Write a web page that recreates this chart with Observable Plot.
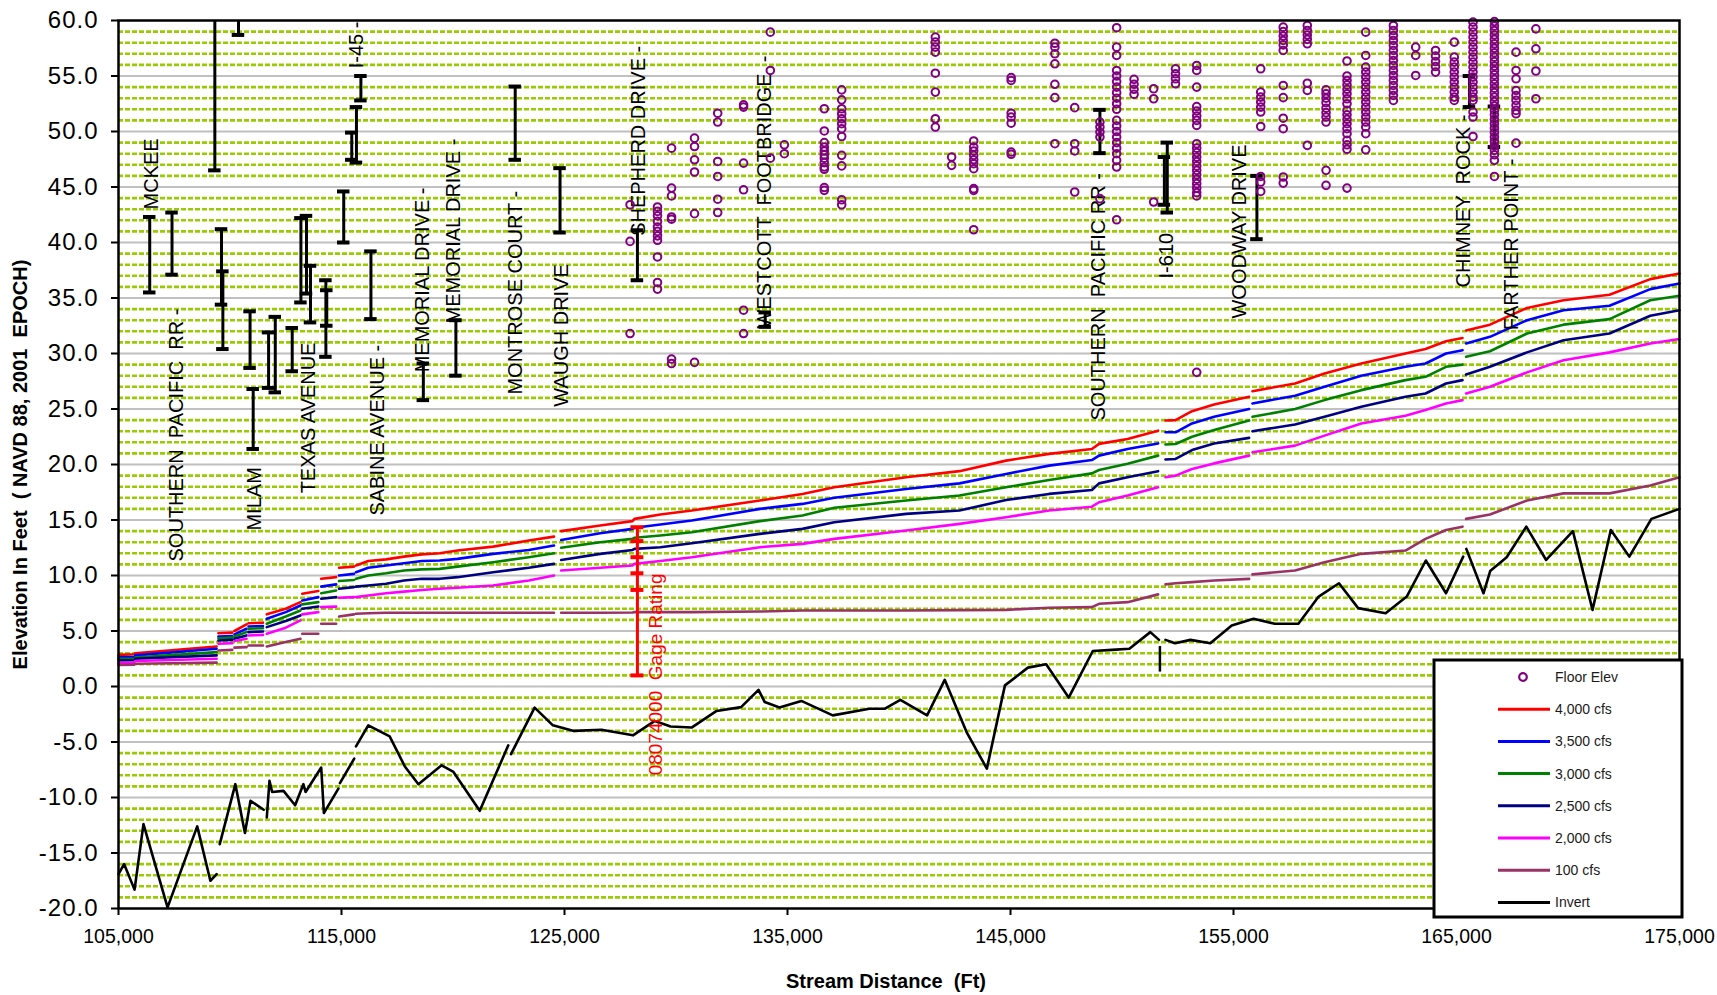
<!DOCTYPE html>
<html>
<head>
<meta charset="utf-8">
<script src="https://cdn.jsdelivr.net/npm/d3@7"></script>
<script src="https://cdn.jsdelivr.net/npm/@observablehq/plot@0.6"></script>
<style>
  html, body { margin: 0; padding: 0; background: #fff; overflow: hidden; }
  #chart svg text { white-space: pre; }
  #chart svg g[aria-label="y-axis tick label"] { letter-spacing: 1px; }
</style>
</head>
<body>
<div id="chart"></div>
<script>
// ---- Water-surface profiles: stations (ft) grouped in continuous reaches ----
const wsSegments = [
  [105000, 105700],
  [105750, 109400],
  [109480, 110100],
  [110200, 110740],
  [110830, 111480],
  [111650, 112500, 113160],
  [113240, 113960],
  [114090, 114760],
  [114890, 115560],
  [115650, 116200, 117000, 117800, 118600, 119400, 120200, 121800, 123400, 124530],
  [124850, 126600, 128050, 128140, 129300, 130710, 133760, 135670, 137100, 140320, 142710, 144800, 146730, 148650, 148970, 150250, 151620],
  [151950, 152400, 153140, 154130, 155700],
  [155850, 157760, 159080, 160730, 162710, 163610, 164530, 165270],
  [165430, 166500, 168160, 169800, 171860, 173690, 175000]
];

// Elevations (ft) of each profile, one list per reach above
const q4000 = [
  [2.85, 2.9], [3.0, 3.6], [4.8, 4.85], [5.0, 5.6], [5.7, 5.75], [6.5, 7.0, 7.6],
  [8.35, 8.6], [9.7, 9.85], [10.7, 10.8],
  [10.9, 11.3, 11.45, 11.7, 11.9, 12.0, 12.25, 12.6, 13.15, 13.5],
  [14.0, 14.5, 14.9, 15.1, 15.5, 15.85, 16.75, 17.35, 17.95, 18.85, 19.4, 20.35, 20.96, 21.4, 21.86, 22.3, 23.05],
  [23.96, 24.0, 24.8, 25.4, 26.1],
  [26.6, 27.3, 28.2, 29.1, 30.0, 30.4, 31.1, 31.4],
  [32.07, 32.6, 34.1, 34.8, 35.3, 36.7, 37.2]
];
const q3500 = [
  [2.64, 2.68], [2.8, 3.4], [4.5, 4.55], [4.7, 5.2], [5.4, 5.45], [6.1, 6.7, 7.3],
  [7.75, 8.05], [9.0, 9.2], [10.0, 10.15],
  [10.3, 10.7, 10.9, 11.1, 11.3, 11.35, 11.5, 11.95, 12.3, 12.7],
  [13.2, 13.8, 14.2, 14.3, 14.6, 14.95, 16.0, 16.45, 17.0, 17.8, 18.3, 19.15, 19.9, 20.4, 20.8, 21.4, 21.9],
  [22.9, 22.9, 23.7, 24.3, 25.0],
  [25.5, 26.2, 27.0, 28.0, 28.8, 29.1, 30.0, 30.3],
  [30.9, 31.5, 33.0, 33.9, 34.3, 35.8, 36.3]
];
const q3000 = [
  [2.49, 2.52], [2.6, 3.1], [4.35, 4.4], [4.5, 4.9], [5.2, 5.25], [5.65, 6.3, 6.85],
  [7.4, 7.6], [8.4, 8.65], [9.5, 9.6],
  [9.7, 10.0, 10.2, 10.45, 10.55, 10.6, 10.8, 11.2, 11.65, 12.0],
  [12.5, 13.0, 13.3, 13.4, 13.6, 13.9, 14.9, 15.4, 16.1, 16.75, 17.2, 17.95, 18.6, 19.2, 19.5, 20.06, 20.8],
  [21.8, 21.85, 22.5, 23.1, 23.96],
  [24.3, 25.0, 25.8, 26.7, 27.6, 27.9, 28.8, 29.0],
  [29.7, 30.2, 31.8, 32.6, 33.1, 34.8, 35.2]
];
const q2500 = [
  [2.34, 2.36], [2.5, 2.8], [4.15, 4.2], [4.3, 4.6], [4.9, 4.95], [5.35, 5.9, 6.4],
  [7.0, 7.2], [7.9, 8.05], [8.8, 8.95],
  [9.0, 9.1, 9.25, 9.55, 9.7, 9.7, 9.85, 10.3, 10.7, 11.05],
  [11.4, 11.95, 12.3, 12.4, 12.55, 12.9, 13.75, 14.2, 14.8, 15.55, 15.85, 16.8, 17.35, 17.7, 18.3, 18.85, 19.4],
  [20.45, 20.5, 21.3, 21.9, 22.4],
  [23.0, 23.6, 24.3, 25.2, 26.1, 26.4, 27.3, 27.6],
  [28.1, 28.8, 30.1, 31.2, 31.8, 33.4, 33.9]
];
const q2000 = [
  [2.13, 2.15], [2.3, 2.5], [3.85, 3.9], [4.1, 4.3], [4.6, 4.65], [4.75, 5.3, 5.95],
  [6.5, 6.7], [7.15, 7.2], [8.0, 8.05],
  [8.05, 8.2, 8.4, 8.55, 8.7, 8.8, 8.9, 9.1, 9.55, 10.0],
  [10.45, 10.7, 10.9, 11.05, 11.3, 11.65, 12.55, 12.85, 13.3, 14.05, 14.65, 15.25, 15.85, 16.2, 16.6, 17.2, 17.95],
  [18.85, 19.0, 19.6, 20.1, 20.8],
  [21.1, 21.7, 22.6, 23.7, 24.4, 24.9, 25.5, 25.8],
  [26.4, 27.0, 28.3, 29.4, 30.1, 30.9, 31.3]
];
const q100 = [
  [1.95, 1.96], [2.05, 2.15], [3.25, 3.3], [3.5, 3.55], [3.7, 3.7], [3.6, 4.0, 4.3],
  [4.75, 4.75], [5.65, 5.65], [6.3, 6.5],
  [6.55, 6.6, 6.64, 6.64, 6.64, 6.64, 6.64, 6.64, 6.64, 6.64],
  [6.64, 6.64, 6.66, 6.7, 6.7, 6.7, 6.75, 6.85, 6.85, 6.85, 6.88, 6.9, 7.1, 7.15, 7.45, 7.6, 8.3],
  [9.2, 9.3, 9.4, 9.55, 9.7],
  [10.1, 10.45, 11.2, 11.95, 12.25, 13.3, 14.1, 14.4],
  [15.1, 15.5, 16.75, 17.4, 17.4, 18.1, 18.85]
];

const profileNames = ["4,000 cfs", "3,500 cfs", "3,000 cfs", "2,500 cfs", "2,000 cfs", "100 cfs"];
const profileValues = [q4000, q3500, q3000, q2500, q2000, q100];

// ---- Channel invert (ft), continuous pieces ----
const invertStations = [
  [105000, 105250, 105720, 106120, 107200, 108530, 109120, 109400],
  [109540, 110240, 110670, 110920, 111510],
  [111650, 111770, 111890, 112400, 112920, 113290, 113390, 114090, 114210, 114860],
  [114930, 115570],
  [115650, 116200, 117160, 117840, 118450, 119490, 120020, 121200, 122480],
  [122600, 123660, 124480, 125420, 126660, 128070, 129050, 129760, 130700, 131820, 132920, 133700, 133980, 134640, 135620, 137030, 138670, 139370, 140060, 141260, 142050, 143030, 143940, 144750, 145780, 146600, 147610, 148690, 149550, 150330, 151270, 151660],
  [151950, 152380, 153070, 153960, 154920, 155900, 156850, 157910, 158820, 159730, 160590, 161820, 162770, 163625, 164530, 165300],
  [165440, 166210, 166510, 167250, 168130, 169020, 170220, 171100, 171920, 172750, 173740, 175000]
];
const invertElev = [
  [-16.9, -16.0, -18.3, -12.4, -19.9, -12.6, -17.5, -16.9],
  [-14.2, -8.8, -13.2, -10.3, -11.1],
  [-11.8, -8.5, -9.5, -9.4, -10.7, -8.8, -9.5, -7.3, -11.4, -9.2],
  [-8.7, -6.5],
  [-5.4, -3.5, -4.5, -7.2, -8.8, -7.1, -7.7, -11.2, -5.3],
  [-6.1, -1.9, -3.5, -4.0, -3.9, -4.4, -3.1, -3.6, -3.7, -2.2, -1.86, -0.3, -1.4, -1.9, -1.3, -2.6, -2.0, -2.0, -1.2, -2.6, 0.6, -4.1, -7.4, 0.1, 1.7, 2.0, -1.0, 3.2, 3.3, 3.4, 4.9, 4.2],
  [4.2, 3.9, 4.2, 3.9, 5.5, 6.1, 5.65, 5.65, 8.1, 9.3, 7.06, 6.6, 8.1, 11.35, 8.4, 11.7],
  [12.4, 8.4, 10.4, 11.65, 14.4, 11.4, 14.0, 6.9, 14.1, 11.7, 15.1, 16.0]
];

// ---- Bridge openings: station, low chord / deck elevations (ft) ----
const bridgeX    = [106400, 107400, 109320, 110380, 109620, 109680, 110900, 111040, 111730, 112030, 112790, 113180, 113430, 113610, 114300, 114340, 115100, 115460, 115670, 115870, 116320, 118670, 120130, 122790, 124800, 128270, 134000, 149010, 152030, 151900, 156050, 165580, 166700];
const bridgeLow  = [35.5, 37.1, 46.5, 58.7, 34.4, 30.4, 28.7, 21.4, 26.9, 26.5, 28.4, 34.6, 35.4, 32.8, 29.7, 32.5, 40.0, 47.45, 47.2, 52.8, 33.1, 25.8, 28.0, 47.45, 40.9, 36.6, 32.4, 48.05, 42.7, 43.4, 40.3, 52.2, 48.6];
const bridgeHigh = [42.3, 42.7, 60.0, 60.0, 41.2, 37.4, 33.8, 26.8, 31.9, 33.3, 32.3, 42.2, 42.4, 37.9, 36.6, 35.7, 44.6, 49.9, 52.2, 55.0, 39.2, 29.1, 33.0, 54.05, 46.7, 41.1, 33.7, 51.95, 49.0, 47.7, 46.0, 55.0, 52.25];
const pierX = [151700];
const pierLow = [1.3];
const pierHigh = [3.6];

// ---- Bridge names ----
const labelText = [
  "MCKEE", "SOUTHERN  PACIFIC  RR -", "MILAM", "TEXAS AVENUE", "I-45 -", "SABINE AVENUE -",
  "MEMORIAL DRIVE -", "MEMORIAL DRIVE -", "MONTROSE COURT -", "WAUGH DRIVE", "SHEPHERD DRIVE -",
  "WESTCOTT  FOOTBRIDGE  -", "SOUTHERN  PACIFIC RR -", "I-610", "WOODWAY DRIVE", "CHIMNEY  ROCK -", "FARTHER POINT -"
];
const labelX = [106480, 107600, 111100, 113520, 115670, 116610, 118630, 120020, 122800, 124870, 128320, 133970, 148950, 151990, 155270, 165310, 167470];
const labelY = [42.97, 11.26, 14.05, 17.4, 55.7, 15.4, 28.3, 32.7, 26.3, 25.2, 40.6, 32.25, 23.96, 36.76, 33.15, 35.95, 32.1];

// ---- USGS gage 08074000 rating range ----
const gageStation = 128270;
const gageLow = 1.0;
const gageHigh = 14.35;
const gageMarks = [14.35, 13.1, 11.65, 10.2, 8.7, 1.0];
const gageText = "08074000  Gage Rating";

// ---- Finished-floor elevations of structures (ft), grouped by station ----
const floorX = [127940, 129170, 129800, 130830, 131870, 133030, 134230, 134860, 136650, 137430, 141630, 142360, 143350, 145030, 146990, 147880, 149010, 149760, 150540, 151420, 152400, 153350, 156220, 157230, 158310, 159150, 160090, 160930, 162170, 163170, 164060, 164900, 165740, 166700, 167670, 168560];
const floorY = [
  [43.4, 40.1, 31.8],
  [43.2, 42.8, 42.4, 41.9, 41.4, 41.0, 40.6, 40.2, 38.7, 36.4, 35.8],
  [48.5, 44.9, 44.2, 42.3, 42.1, 29.5, 29.1],
  [49.4, 48.65, 47.45, 46.35, 42.6, 29.2],
  [51.65, 50.85, 47.3, 45.95, 43.9, 42.7],
  [52.4, 52.2, 47.15, 44.75, 33.9, 31.8],
  [58.95, 55.5, 47.6],
  [48.8, 48.0],
  [52.05, 50.05, 49.0, 48.6, 48.25, 47.9, 47.6, 47.2, 46.8, 46.6, 44.95, 44.7],
  [53.75, 52.85, 52.05, 51.6, 51.15, 50.7, 50.25, 49.55, 47.85, 46.9, 43.85, 43.4],
  [58.5, 58.05, 57.6, 57.15, 55.25, 53.55, 51.15, 50.4],
  [47.7, 46.95],
  [49.15, 48.6, 48.25, 47.85, 47.45, 47.1, 46.65, 44.85, 44.7, 41.15],
  [54.85, 54.6, 51.65, 51.3, 50.75, 48.15, 47.95],
  [57.95, 57.6, 57.0, 56.1, 54.25, 53.05, 48.9],
  [52.15, 48.9, 48.25, 44.55],
  [50.85, 50.4, 49.95, 49.5, 43.95],
  [59.35, 57.6, 56.85, 55.5, 55.0, 54.5, 54.0, 53.5, 53.0, 52.5, 52.0, 51.0, 50.5, 50.0, 49.5, 49.0, 48.5, 48.0, 47.4, 46.8, 42.05],
  [54.7, 54.25, 53.8, 53.35],
  [53.85, 52.95, 43.65],
  [55.65, 55.2, 54.75, 54.3],
  [55.95, 55.5, 54.0, 52.25, 51.85, 51.4, 51.0, 50.55, 48.9, 48.5, 48.1, 47.7, 47.3, 46.9, 46.5, 46.1, 45.7, 45.3, 44.9, 44.5, 44.2, 28.3],
  [55.65, 53.55, 53.1, 52.65, 52.2, 51.75, 50.45, 45.95, 45.45, 44.6],
  [59.4, 59.0, 58.6, 58.2, 57.8, 57.3, 54.15, 53.05, 51.2, 50.25, 45.9, 45.35],
  [59.55, 59.1, 58.7, 58.3, 57.9, 54.35, 53.7, 48.75],
  [53.75, 53.4, 53.0, 52.6, 52.1, 51.7, 51.3, 50.85, 46.5, 45.15],
  [56.35, 55.0, 54.6, 54.2, 53.8, 53.4, 52.95, 52.5, 51.9, 51.5, 51.1, 50.7, 50.25, 49.8, 49.2, 48.8, 48.4, 44.9],
  [58.95, 56.85, 55.8, 55.35, 54.9, 54.45, 54.0, 53.55, 53.1, 52.65, 52.2, 51.75, 51.3, 50.85, 50.4, 49.8, 48.35],
  [59.55, 59.1, 58.65, 58.2, 57.75, 57.3, 56.85, 56.4, 55.95, 55.5, 55.05, 54.6, 54.15, 53.7, 53.25, 52.8],
  [57.6, 56.85, 55.05],
  [57.3, 56.8, 56.3, 55.85, 55.35],
  [58.05, 56.7, 56.25, 55.8, 55.35, 54.9, 54.45, 54.0, 53.55, 53.1, 52.8],
  [59.85, 59.4, 58.95, 58.5, 58.05, 57.6, 57.15, 56.7, 56.25, 55.8, 55.35, 54.9, 54.45, 54.0, 53.55, 53.1, 52.8, 51.75, 51.3, 49.55],
  [59.9, 59.5, 59.1, 58.7, 58.3, 57.9, 57.5, 57.1, 56.7, 56.3, 55.9, 55.5, 55.1, 54.7, 54.3, 53.9, 53.5, 53.1, 52.7, 52.3, 51.9, 51.5, 51.1, 50.7, 50.3, 49.9, 49.5, 49.1, 48.7, 48.3, 47.9, 47.4, 45.95],
  [57.15, 55.5, 54.75, 53.7, 53.25, 52.8, 52.35, 51.9, 51.6, 48.95],
  [59.25, 57.45, 55.45, 52.95]
];

// ---- Axes ----
const xTicks = [105000, 115000, 125000, 135000, 145000, 155000, 165000, 175000];
const yMajor = [-20, -15, -10, -5, 0, 5, 10, 15, 20, 25, 30, 35, 40, 45, 50, 55, 60];
const xTitle = "Stream Distance  (Ft)";
const yTitle = "Elevation In Feet  ( NAVD 88, 2001  EPOCH)";
const legendLabels = ["Floor Elev", ...profileNames, "Invert"];

// ---- Styling ----
const FONT = "'Liberation Sans', Arial, Helvetica, sans-serif";
const profileColors = ["#ff0000", "#0000ff", "#008000", "#000080", "#ff00ff", "#993366"];
const floorColor = "#800080";
const invertColor = "#000000";

// Flatten reaches into rows, inserting a break row between reaches
function reachRows(stations, values) {
  const rows = [];
  stations.forEach((seg, i) => {
    seg.forEach((x, j) => rows.push({x, y: values[i][j]}));
    rows.push({x: null, y: null});
  });
  return rows;
}

const bridges = bridgeX.map((x, i) => ({x, lo: bridgeLow[i], hi: bridgeHigh[i]}));
const bridgeCaps = bridges.flatMap(b => [{x: b.x, y: b.lo}, {x: b.x, y: b.hi}]).filter(d => d.y < 60);
const piers = pierX.map((x, i) => ({x, lo: pierLow[i], hi: pierHigh[i]}));
const labels = labelText.map((t, i) => ({t, x: labelX[i], y: labelY[i]}));
const floors = floorX.flatMap((x, i) => floorY[i].map(y => ({x, y})));
const minorY = d3.range(-19, 60).filter(v => v % 5 !== 0);
const gridMajorY = yMajor.filter(v => v > -20 && v < 60);

const capHalf = 280;   // ft, half-width of bridge caps
const gageCapHalf = 290;

const marks = [
  // grid
  Plot.ruleY(minorY, {stroke: "#99cc00", strokeWidth: 2.6, strokeDasharray: "5,2"}),
  Plot.ruleY(gridMajorY, {stroke: "#c0c0c0", strokeWidth: 2}),
  // axes
  Plot.axisY({ticks: yMajor, tickFormat: d => d.toFixed(1), tickSize: 7, tickPadding: 13, fontSize: 24, strokeWidth: 2, label: null}),
  Plot.axisX({ticks: xTicks, tickFormat: d3.format(","), tickSize: 7, tickPadding: 14, fontSize: 19.5, strokeWidth: 2, label: null}),
  // profiles
  ...profileValues.map((vals, k) =>
    Plot.line(reachRows(wsSegments, vals), {x: "x", y: "y", stroke: profileColors[k], strokeWidth: 2.6, curve: "linear"})
  ),
  // invert
  Plot.line(reachRows(invertStations, invertElev), {x: "x", y: "y", stroke: invertColor, strokeWidth: 2.6}),
  Plot.ruleX(piers, {x: "x", y1: "lo", y2: "hi", stroke: "#000", strokeWidth: 2.5}),
  // bridges
  Plot.ruleX(bridges, {x: "x", y1: "lo", y2: "hi", stroke: "#000", strokeWidth: 3}),
  Plot.ruleY(bridgeCaps, {y: "y", x1: d => d.x - capHalf, x2: d => d.x + capHalf, stroke: "#000", strokeWidth: 4}),
  // bridge names
  Plot.text(labels, {x: "x", y: "y", text: "t", rotate: -90, textAnchor: "start", lineAnchor: "middle", fontSize: 20, fill: "#000"}),
  // floor elevations
  Plot.dot(floors, {x: "x", y: "y", r: 3.8, stroke: floorColor, strokeWidth: 2, fill: "none"}),
  // gage rating
  Plot.ruleX([gageStation], {x: d => d, y1: gageLow, y2: gageHigh, stroke: "#ff0000", strokeWidth: 3}),
  Plot.ruleY(gageMarks, {y: d => d, x1: gageStation - gageCapHalf, x2: gageStation + gageCapHalf, stroke: "#ff0000", strokeWidth: 4}),
  Plot.text([gageText], {x: gageStation, y: -8.0, text: d => d, dx: 18, rotate: -90, textAnchor: "start", lineAnchor: "middle", fontSize: 19, fill: "#ff0000"}),
  // axis titles
  Plot.text([yTitle], {text: d => d, frameAnchor: "left", textAnchor: "middle", lineAnchor: "middle", dx: -98, rotate: -90, fontSize: 20, fontWeight: "bold", fill: "#000"}),
  Plot.text([xTitle], {text: d => d, frameAnchor: "bottom", textAnchor: "middle", lineAnchor: "middle", dy: 73, dx: -13, fontSize: 20, fontWeight: "bold", fill: "#000"}),
  Plot.frame({stroke: "#000", strokeWidth: 2.5})
];

const chart = Plot.plot({
  width: 1717,
  height: 995,
  marginTop: 20,
  marginRight: 38,
  marginBottom: 87,
  marginLeft: 118,
  x: {type: "linear", domain: [105000, 175000]},
  y: {type: "linear", domain: [-20, 60]},
  style: {fontFamily: FONT, background: "#fff", color: "#000", overflow: "visible"},
  marks
});

document.getElementById("chart").appendChild(chart);

// ---- Legend box drawn on top of the lower-right corner ----
const svgEl = chart.tagName.toLowerCase() === "svg" ? chart : chart.querySelector("svg");
const svg = d3.select(svgEl);
const legendColors = [floorColor, ...profileColors, invertColor];
const lg = svg.append("g")
  .attr("font-family", FONT)
  .attr("font-size", 14)
  .attr("text-anchor", "start");
lg.append("rect")
  .attr("x", 1434).attr("y", 660).attr("width", 248).attr("height", 257)
  .attr("fill", "#fff").attr("stroke", "#000").attr("stroke-width", 3);
legendLabels.forEach((lab, i) => {
  const cy = 677 + i * 32.2;
  if (i === 0) {
    lg.append("circle").attr("cx", 1523).attr("cy", cy).attr("r", 3.8)
      .attr("fill", "none").attr("stroke", legendColors[i]).attr("stroke-width", 2.2);
  } else {
    lg.append("line").attr("x1", 1498).attr("x2", 1550).attr("y1", cy).attr("y2", cy)
      .attr("stroke", legendColors[i]).attr("stroke-width", 3);
  }
  lg.append("text").attr("x", 1555).attr("y", cy).attr("dy", "0.35em")
    .attr("text-anchor", "start").attr("fill", "#1a1a1a").text(lab);
});
</script>
</body>
</html>
